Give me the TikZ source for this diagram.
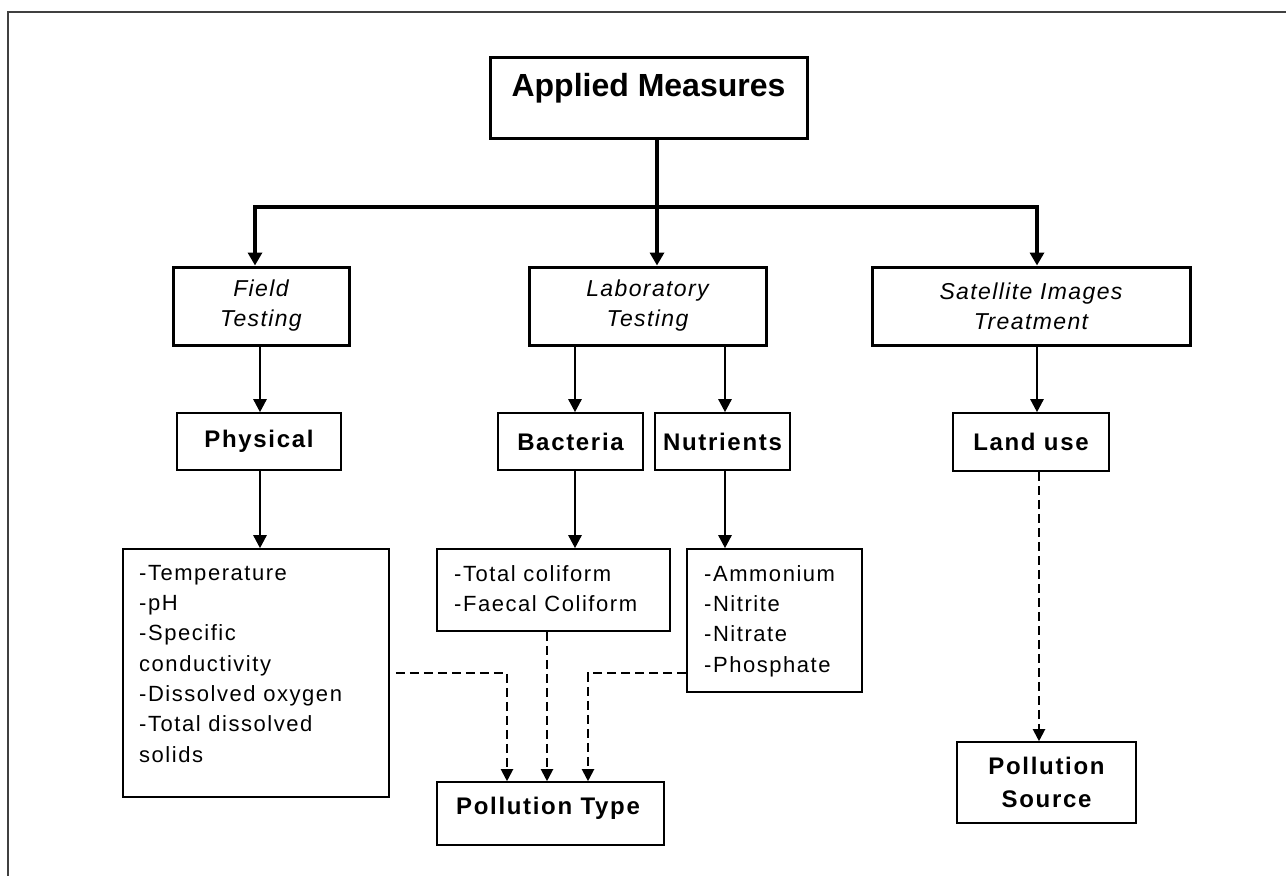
\documentclass[tikz,border=0pt]{standalone}
\usepackage{fontspec}
\setmainfont{Liberation Sans}
\newfontfamily\spfont{Liberation Sans}[LetterSpace=6]
\newfontfamily\lspfont{Liberation Sans}[LetterSpace=7]
\newfontfamily\bspfont{Liberation Sans}[LetterSpace=7]
\usetikzlibrary{arrows.meta}
\begin{document}
\begin{tikzpicture}[x=1pt,y=-1pt,
  thickbox/.style={draw, line width=3pt, inner sep=0pt, align=center,
    font=\spfont\itshape\fontsize{23pt}{30pt}\selectfont},
  thinbox/.style={draw, line width=1.6pt, inner sep=0pt, align=center,
    font=\bspfont\bfseries\fontsize{24pt}{33pt}\selectfont},
  listtext/.style={inner sep=0pt, anchor=north west, align=left,
    font=\lspfont\fontsize{22pt}{30.3pt}\selectfont},
  thickline/.style={line width=4pt},
  thickarrow/.style={line width=4pt, line join=miter, -{Triangle[width=14pt,length=13pt]}},
  thinarrow/.style={line width=2.5pt, -{Triangle[width=13pt,length=13pt]}},
  dasharrow/.style={line width=2pt, dash pattern=on 9pt off 5pt, -{Triangle[width=12pt,length=12pt]}}
]
\useasboundingbox (0,0) rectangle (1286,876);
\fill[white] (0,0) rectangle (1286,876);
\draw[line width=2pt, black!75] (8,876) -- (8,12) -- (1286,12);

% top
\node[thickbox, minimum width=317pt, minimum height=81pt] (am) at (648.5,97.5) {};
\node[inner sep=0pt, font=\bfseries\fontsize{32pt}{38pt}\selectfont] (amt) at (648.5,88) {Applied Measures};

% second row
\node[thickbox, minimum width=176pt, minimum height=78pt] (field) at (261,306) {Field\\Testing};
\node[thickbox, minimum width=237pt, minimum height=78pt] (lab) at (647.5,306) {Laboratory\\Testing};
\node[thickbox, minimum width=318pt, minimum height=78pt] (sat) at (1031,306) {Satellite Images\\Treatment};

% third row
\node[thinbox, minimum width=164pt, minimum height=57pt] (phys) at (259,441.5) {Physical};
\node[thinbox, minimum width=145pt, minimum height=57pt] (bact) at (570.5,441.5) {Bacteria};
\node[thinbox, minimum width=135pt, minimum height=57pt] (nutr) at (722.5,441.5) {Nutrients};
\node[thinbox, minimum width=156pt, minimum height=58pt] (land) at (1031,442) {Land use};

% lists
\node[thinbox, minimum width=266pt, minimum height=248pt] (templist) at (256,673) {};
\node[listtext] (templistt) at (139,565) {-Temperature\\-pH\\-Specific\\conductivity\\-Dissolved oxygen\\-Total dissolved\\solids};
\node[thinbox, minimum width=233pt, minimum height=82pt] (coli) at (553.5,590) {};
\node[listtext] (colit) at (454,565) {-Total coliform\\-Faecal Coliform};
\node[thinbox, minimum width=175pt, minimum height=143pt] (nutlist) at (774.5,620.5) {};
\node[listtext] (nutlistt) at (704,565) {-Ammonium\\-Nitrite\\-Nitrate\\-Phosphate};

% results
\node[thinbox, minimum width=227pt, minimum height=63pt] (ptype) at (550.5,813.5) {};
\node[inner sep=0pt, font=\bspfont\bfseries\fontsize{24pt}{33pt}\selectfont] (ptypet) at (548,808) {Pollution Type};
\node[thinbox, minimum width=179pt, minimum height=81pt] (psrc) at (1046.5,782.5) {Pollution\\Source};

% coordinates
\coordinate (bM) at (657,207);
\coordinate (bL) at (255,207);
\coordinate (bR) at (1037,207);
\coordinate (xa) at (260,0);
\coordinate (xb) at (575,0);
\coordinate (xc) at (725,0);
\coordinate (xd) at (1037,0);
\coordinate (d1) at (507,673);
\coordinate (d2) at (547,0);
\coordinate (d3) at (588,673);
\coordinate (d4) at (1039,0);

% thick connectors
\draw[thickline] (am.south -| bM) -- (bM);
\draw[thickarrow] (bM) -- (lab.north -| bM);
\draw[thickarrow] (bM) -- (bL) -- (field.north -| bL);
\draw[thickarrow] (bM) -- (bR) -- (sat.north -| bR);

% thin connectors
\draw[thinarrow] (field.south -| xa) -- (phys.north -| xa);
\draw[thinarrow] (phys.south -| xa) -- (templist.north -| xa);
\draw[thinarrow] (lab.south -| xb) -- (bact.north -| xb);
\draw[thinarrow] (bact.south -| xb) -- (coli.north -| xb);
\draw[thinarrow] (lab.south -| xc) -- (nutr.north -| xc);
\draw[thinarrow] (nutr.south -| xc) -- (nutlist.north -| xc);
\draw[thinarrow] (sat.south -| xd) -- (land.north -| xd);

% dashed connectors
\draw[dasharrow] ([xshift=6pt]templist.east |- d1) -- (d1) -- (ptype.north -| d1);
\draw[dasharrow] (coli.south -| d2) -- (ptype.north -| d2);
\draw[dasharrow] (nutlist.west |- d3) -- (d3) -- (ptype.north -| d3);
\draw[dasharrow] (land.south -| d4) -- (psrc.north -| d4);
\end{tikzpicture}
\end{document}
